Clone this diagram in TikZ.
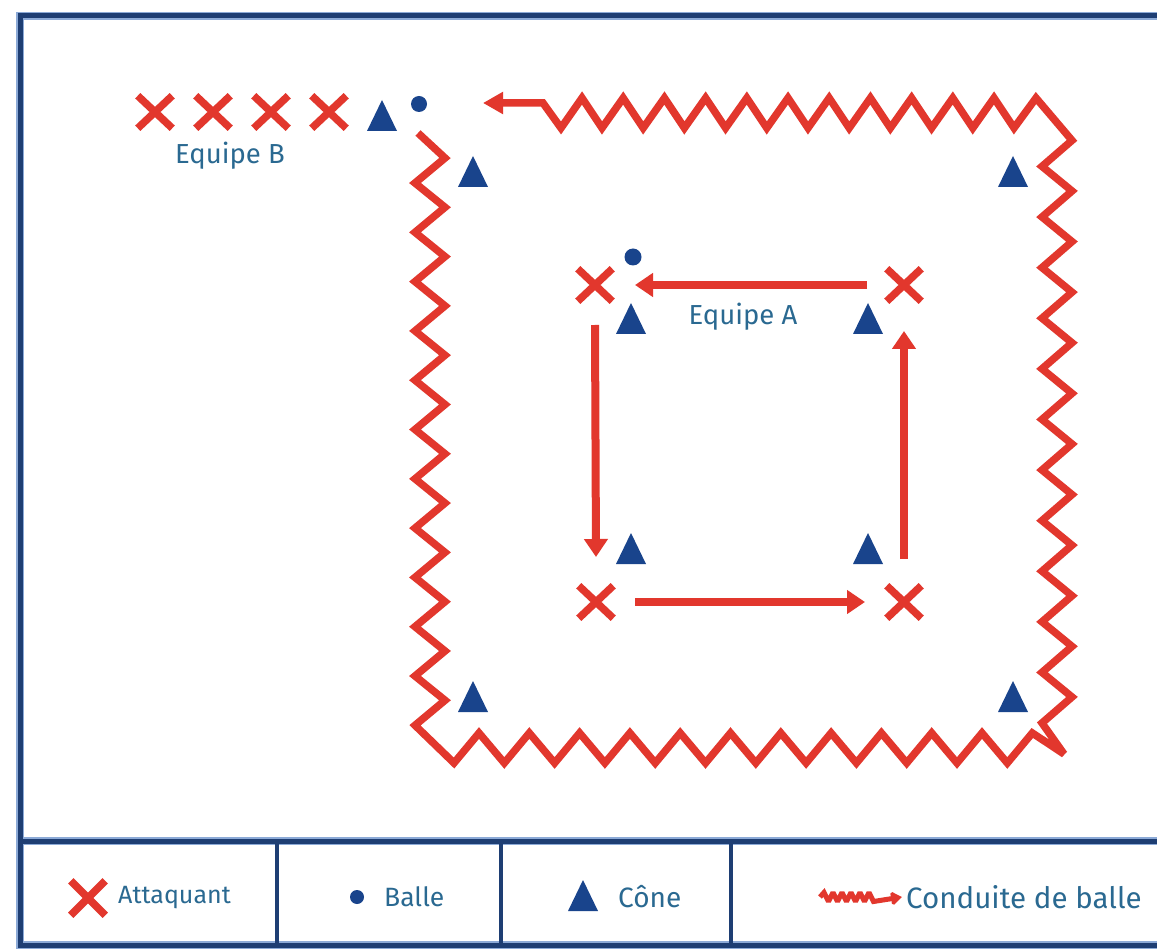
\documentclass[tikz,border=0pt]{standalone}
\usepackage{fontspec}
\setmainfont{Fira Sans}
\usetikzlibrary{arrows.meta,shapes.misc}
\definecolor{frameblue}{RGB}{30,62,115}
\definecolor{framehalo}{RGB}{140,170,215}
\definecolor{playerred}{RGB}{226,55,45}
\definecolor{conenavy}{RGB}{25,68,140}
\definecolor{labelblue}{RGB}{42,105,145}

\begin{document}
\begin{tikzpicture}[x=1pt,y=-1pt,
  framehaloline/.style={draw=framehalo,line width=8pt},
  framecore/.style={draw=frameblue,line width=5pt},
  dividerline/.style={draw=frameblue,line width=4pt},
  player/.style={cross out,draw=playerred,line width=7.5pt,minimum width=27pt,minimum height=25pt,inner sep=0pt},
  ball/.style={circle,fill=conenavy,inner sep=0pt,minimum size=#1},
  ball/.default=16pt,
  pass/.style={draw=playerred,line width=8pt,-{Triangle[length=18pt,width=23pt]}},
  dribble/.style={draw=playerred,line width=7.5pt,line join=miter,miter limit=3,-{Triangle[length=20pt,width=21pt]}},
  teamlabel/.style={text=labelblue,font=\fontsize{27.5}{32}\selectfont,inner sep=0pt},
  legendlabel/.style={text=labelblue,inner sep=0pt,anchor=west},
  cone/.pic={\fill[conenavy] (-15,15) -- (0,-16) -- (15,15) -- cycle;}
]
\useasboundingbox (0,0) rectangle (1157,949);
\fill[white] (0,0) rectangle (1157,949);

% pitch frame and legend strip
\foreach \sty in {framehaloline,framecore}{
  \draw[\sty] (20,16) rectangle (1185,945);
  \draw[\sty] (20,841) -- (1185,841);
}
\draw[dividerline] (277,841) -- (277,945);
\draw[dividerline] (501,841) -- (501,945);
\draw[dividerline] (731,841) -- (731,945);

% team B waiting line
\node[player] (b1) at (155,112) {};
\node[player] (b2) at (213,112) {};
\node[player] (b3) at (271,112) {};
\node[player] (b4) at (329,112) {};
\pic at (382,116) {cone};
\node[ball] (bb) at (419,104) {};
\node[teamlabel] (eqb) at (230,156) {Equipe B};

% outer cones
\pic at (473,172) {cone};
\pic at (1013,172) {cone};
\pic at (473,697) {cone};
\pic at (1013,697) {cone};

% dribbling circuit round the outer square
\coordinate (dstart) at (418,133);
\coordinate (dend) at (483,103);
\draw[dribble] (dstart)
  \foreach \k in {0,...,11}{ -- (445,158+49.3*\k) -- (415,183+49.3*\k) }
  \foreach \k in {0,...,11}{ -- (454+50.3*\k,763) -- (479+50.3*\k,733) }
  -- (1064,754)
  \foreach \k in {0,...,11}{ -- (1042,723-50.6*\k) -- (1072,697-50.6*\k) }
  -- (1036,98)
  \foreach \k in {0,...,10}{ -- (1014-41.2*\k,128) -- (994-41.2*\k,98) }
  -- (561,128) -- (543,103) -- (dend);

% team A square
\node[player] (a1) at (595,285) {};
\node[player] (a2) at (904,285) {};
\node[player] (a3) at (596,602) {};
\node[player] (a4) at (904,602) {};
\node[ball,minimum size=17pt] (ab) at (633,257) {};
\pic at (631,319) {cone};
\pic at (868,319) {cone};
\pic at (631,549) {cone};
\pic at (868,549) {cone};
\node[teamlabel] (eqa) at (743,317) {Equipe A};

\draw[pass] ([xshift=-37pt]a2.center) -- ([xshift=40pt]a1.center);
\draw[pass] ([yshift=-40pt]a1.center) -- ([yshift=45pt]a3.center);
\draw[pass] ([xshift=39pt]a3.center) -- ([xshift=-39pt]a4.center);
\draw[pass] ([yshift=43pt]a4.center) -- ([yshift=-46pt]a2.center);

% legend
\node[player,minimum width=27pt,minimum height=27pt] (lx) at (88,898) {};
\node[legendlabel,font=\fontsize{25}{29}\selectfont] (lt1) at (118,898) {Attaquant};
\node[ball,minimum size=14pt] (lb) at (357,897) {};
\node[legendlabel,font=\fontsize{26.5}{31}\selectfont] (lt2) at (384,897) {Balle};
\pic at (583,896) {cone};
\node[legendlabel,font=\fontsize{28}{33}\selectfont] (lt3) at (618,897) {Cône};
\coordinate (lz0) at (820,897);
\coordinate (lz1) at (902,897);
\draw[draw=playerred,line width=5pt,line join=miter,miter limit=2,-{Triangle[length=11pt,width=15pt]}] (lz0)
  \foreach \k in {0,...,5}{ -- (824+9*\k,892.5) -- (828.5+9*\k,901.5) } -- (lz1);
\node[legendlabel,font=\fontsize{29.5}{34}\selectfont] (lt4) at (906,897) {Conduite de balle};
\end{tikzpicture}
\end{document}
